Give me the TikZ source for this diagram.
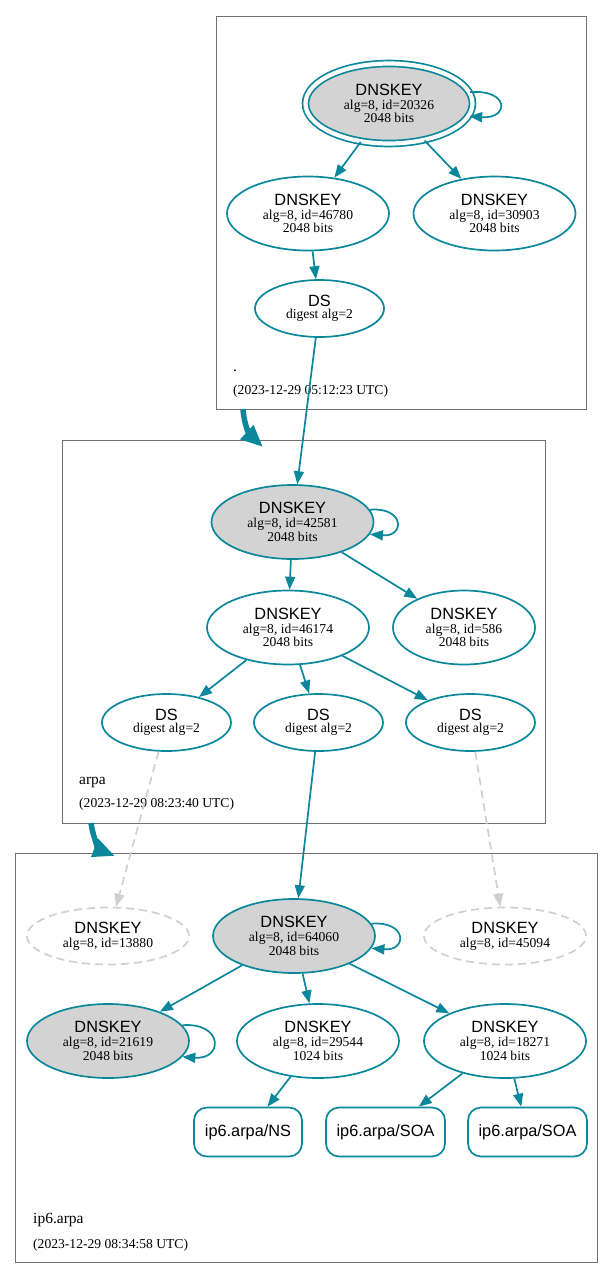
\documentclass[tikz,border=0pt]{standalone}
\usepackage{fontspec}
\setmainfont{Liberation Serif}
\setsansfont{Liberation Sans}
\usetikzlibrary{arrows.meta,shapes.geometric}
\definecolor{sec}{HTML}{0A879A}
\definecolor{kskfill}{HTML}{D3D3D3}
\definecolor{misscol}{HTML}{D0D0D0}
\definecolor{zonec}{HTML}{707070}
\newcommand\hd[1]{{\sffamily\fontsize{16.3}{16}\selectfont #1}}
\newcommand\keylab[2]{\hd{DNSKEY}\\[0.6pt]#1\\#2}
\newcommand\misslab[1]{\hd{DNSKEY}\\[0.6pt]#1}
\newcommand\dslab{\hd{DS}\\[-1pt]digest alg=2}
\tikzset{
 key/.style={ellipse, draw=sec, line width=1.7pt, inner sep=0pt, minimum width=162pt, minimum height=74pt, align=center, font=\fontsize{13.6}{13.4}\selectfont},
 ksk/.style={key, fill=kskfill},
 dsn/.style={key, minimum width=129pt, minimum height=57pt},
 misskey/.style={key, draw=misscol, dash pattern=on 8pt off 5pt, minimum height=57pt},
 rr/.style={rectangle, rounded corners=13pt, draw=sec, line width=1.7pt, minimum height=49pt, inner sep=0pt, font=\sffamily\fontsize{16.3}{16}\selectfont},
 edge/.style={draw=sec, line width=1.7pt, -{Triangle[length=13pt,width=10pt]}},
 missedge/.style={draw=misscol, line width=1.7pt, dash pattern=on 8pt off 5pt, -{Triangle[length=13pt,width=10pt]}},
 zone/.style={rectangle, draw=zonec, line width=1pt, inner sep=0pt},
 deleg/.style={draw=sec, line width=5.5pt, -{Triangle[length=22pt,width=18pt]}},
 zlabel/.style={anchor=base west, inner sep=0pt, font=\fontsize{15.5}{16}\selectfont},
 zdate/.style={anchor=base west, inner sep=0pt, font=\fontsize{13.6}{14}\selectfont},
}
\begin{document}
\begin{tikzpicture}[x=1pt,y=-1pt]
\useasboundingbox (0,0) rectangle (613,1278);
% zone boxes
\node[zone, minimum width=370pt, minimum height=393pt] (zroot) at (401,212.5) {};
\node[zone, minimum width=483pt, minimum height=383pt] (zarpa) at (303.5,631.5) {};
\node[zone, minimum width=582pt, minimum height=409pt] (zip6) at (306,1057.5) {};
% zone labels
\node[zlabel] (lroot) at (233,371) {.};
\node[zdate] (droot) at (233,394) {(2023-12-29 05:12:23 UTC)};
\node[zlabel] (larpa) at (79,784) {arpa};
\node[zdate] (darpa) at (79,807) {(2023-12-29 08:23:40 UTC)};
\node[zlabel] (lip6) at (33,1223) {ip6.arpa};
\node[zdate] (dip6) at (33,1248) {(2023-12-29 08:34:58 UTC)};
% root
\node[ksk, double=white, double distance=4.2pt, minimum width=167pt, minimum height=80pt] (k20326) at (389,103.5) {\keylab{alg=8, id=20326}{2048 bits}};
\node[key] (k46780) at (308,213.5) {\keylab{alg=8, id=46780}{2048 bits}};
\node[key] (k30903) at (494.5,213.5) {\keylab{alg=8, id=30903}{2048 bits}};
\node[dsn] (ds0) at (319.5,308.5) {\dslab};
% arpa
\node[ksk] (k42581) at (292.5,522) {\keylab{alg=8, id=42581}{2048 bits}};
\node[key] (k46174) at (288,627.5) {\keylab{alg=8, id=46174}{2048 bits}};
\node[key, minimum width=142pt] (k586) at (464,627.5) {\keylab{alg=8, id=586}{2048 bits}};
\node[dsn] (ds1) at (166.5,722.5) {\dslab};
\node[dsn] (ds2) at (318.5,722.5) {\dslab};
\node[dsn] (ds3) at (470.5,722.5) {\dslab};
% ip6.arpa
\node[misskey] (k13880) at (108,936) {\misslab{alg=8, id=13880}};
\node[ksk] (k64060) at (294,936) {\keylab{alg=8, id=64060}{2048 bits}};
\node[misskey] (k45094) at (505,936) {\misslab{alg=8, id=45094}};
\node[ksk] (k21619) at (108,1041) {\keylab{alg=8, id=21619}{2048 bits}};
\node[key] (k29544) at (318,1041) {\keylab{alg=8, id=29544}{1024 bits}};
\node[key] (k18271) at (505,1041) {\keylab{alg=8, id=18271}{1024 bits}};
\node[rr, minimum width=108pt] (ns) at (248,1132) {ip6.arpa/NS};
\node[rr, minimum width=119pt] (soa1) at (385.5,1132) {ip6.arpa/SOA};
\node[rr, minimum width=119pt] (soa2) at (527.5,1132) {ip6.arpa/SOA};
% delegation arrows
\coordinate (d1a) at (243,409);
\coordinate (d1b) at (263,447);
\coordinate (d2a) at (91,823);
\coordinate (d2b) at (115,856);
\draw[deleg] (d1a) .. controls +(1,16) and +(-13,-12) .. (d1b);
\draw[deleg] (d2a) .. controls +(2,15) and +(-15,-6) .. (d2b);
% edges
\draw[edge] (k20326.8) .. controls +(40,-3) and +(40,3) .. (k20326.-9);
\draw[edge] (k20326) -- (k46780);
\draw[edge] (k20326) -- (k30903);
\draw[edge] (k46780) -- (ds0);
\draw[edge] (ds0) -- (k42581);
\draw[edge] (k42581.9) .. controls +(35,-3) and +(35,3) .. (k42581.-9);
\draw[edge] (k42581) -- (k46174);
\draw[edge] (k42581) -- (k586);
\draw[edge] (k46174) -- (ds1);
\draw[edge] (k46174) -- (ds2);
\draw[edge] (k46174) -- (ds3);
\draw[missedge] (ds1) -- (k13880);
\draw[edge] (ds2) -- (k64060);
\draw[missedge] (ds3) -- (k45094);
\draw[edge] (k64060.9) .. controls +(36,-3) and +(36,3) .. (k64060.-9);
\draw[edge] (k64060) -- (k21619);
\draw[edge] (k64060) -- (k29544);
\draw[edge] (k64060) -- (k18271);
\draw[edge] (k21619.12) .. controls +(41,-3) and +(41,3) .. (k21619.-12);
\draw[edge] (k29544) -- (ns);
\draw[edge] (k18271) -- (soa1);
\draw[edge] (k18271) -- (soa2);
\end{tikzpicture}
\end{document}
